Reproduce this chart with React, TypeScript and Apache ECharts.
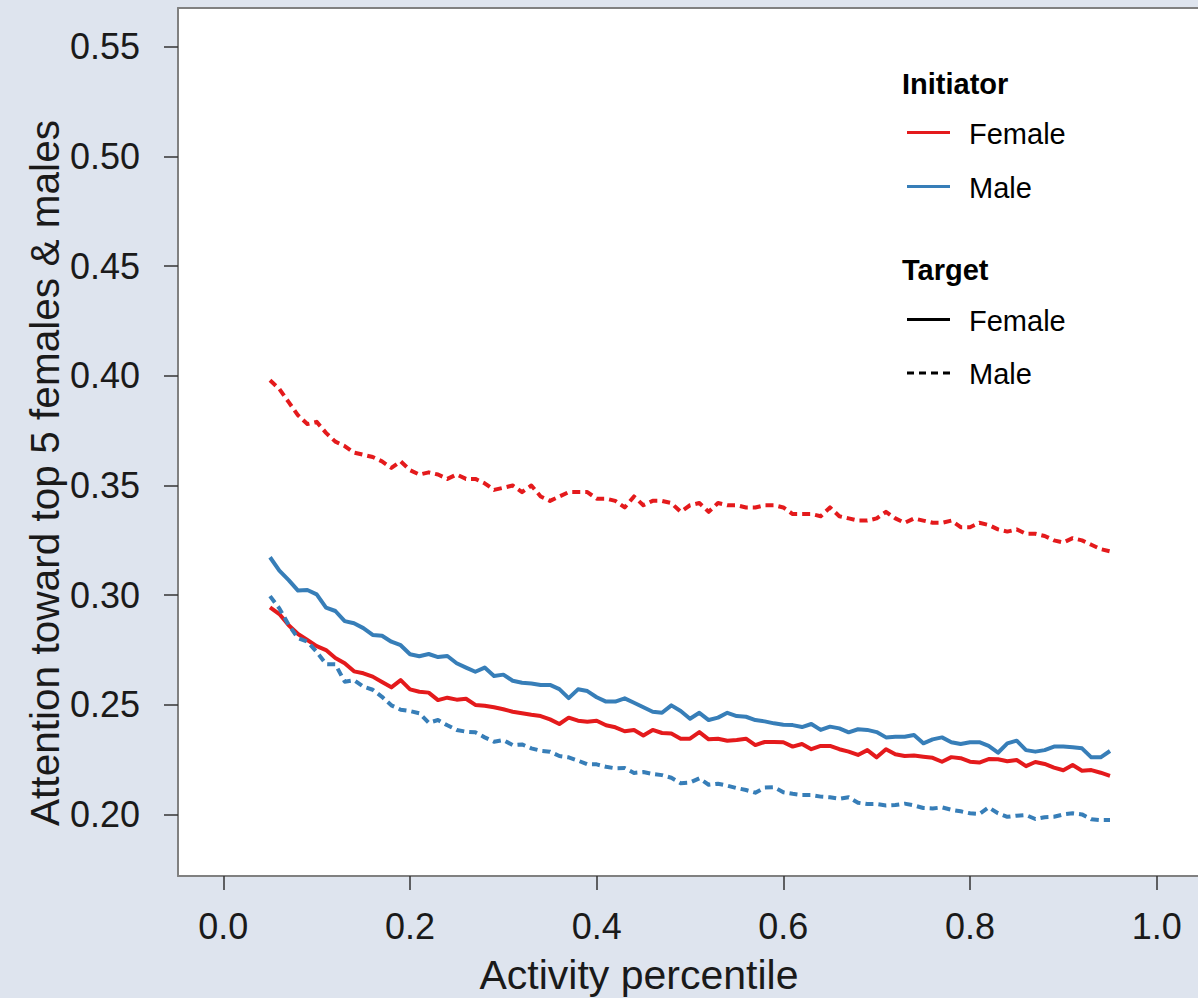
import React, { useEffect, useRef } from "react";
import * as echarts from "echarts";

// Activity percentile grid (0.05 .. 0.95 step 0.01)
const percentiles: number[] = Array.from({ length: 91 }, (_, i) => Math.round((0.05 + i * 0.01) * 100) / 100);

const xTicks = [0, 0.2, 0.4, 0.6, 0.8, 1.0];
const yTicks = [0.2, 0.25, 0.3, 0.35, 0.4, 0.45, 0.5, 0.55];

// Initiator Female -> Target Male (red dashed)
const femaleToMale = [
  0.398, 0.394, 0.388, 0.382, 0.378, 0.379, 0.374, 0.370, 0.368, 0.365,
  0.364, 0.363, 0.361, 0.358, 0.361, 0.357, 0.355, 0.356, 0.355, 0.353,
  0.355, 0.353, 0.353, 0.351, 0.348, 0.349, 0.350, 0.347, 0.350, 0.345,
  0.343, 0.345, 0.347, 0.347, 0.347, 0.344, 0.344, 0.343, 0.340, 0.345,
  0.341, 0.343, 0.343, 0.342, 0.338, 0.341, 0.342, 0.338, 0.342, 0.341,
  0.341, 0.340, 0.340, 0.341, 0.341, 0.340, 0.337, 0.337, 0.337, 0.336,
  0.340, 0.336, 0.335, 0.334, 0.334, 0.335, 0.338, 0.335, 0.333, 0.335,
  0.334, 0.333, 0.333, 0.334, 0.331, 0.331, 0.333, 0.332, 0.330, 0.329,
  0.330, 0.328, 0.328, 0.327, 0.325, 0.324, 0.326, 0.325, 0.323, 0.321,
  0.320,
];

// Initiator Female -> Target Female (red solid)
const femaleToFemale = [
  0.2945, 0.2914, 0.2863, 0.2823, 0.2796, 0.2768, 0.2750, 0.2714, 0.2690, 0.2653,
  0.2644, 0.2629, 0.2604, 0.2580, 0.2613, 0.2571, 0.2560, 0.2556, 0.2522, 0.2533,
  0.2524, 0.2528, 0.2500, 0.2496, 0.2489, 0.2480, 0.2469, 0.2462, 0.2455, 0.2449,
  0.2434, 0.2413, 0.2442, 0.2428, 0.2423, 0.2428, 0.2407, 0.2398, 0.2380, 0.2386,
  0.2361, 0.2386, 0.2372, 0.2370, 0.2346, 0.2346, 0.2376, 0.2343, 0.2346, 0.2337,
  0.2340, 0.2346, 0.2317, 0.2331, 0.2331, 0.2330, 0.2310, 0.2322, 0.2298, 0.2313,
  0.2313, 0.2298, 0.2287, 0.2272, 0.2294, 0.2261, 0.2298, 0.2275, 0.2267, 0.2269,
  0.2264, 0.2259, 0.2241, 0.2262, 0.2257, 0.2241, 0.2237, 0.2253, 0.2252, 0.2243,
  0.2249, 0.2221, 0.2240, 0.2231, 0.2214, 0.2202, 0.2226, 0.2200, 0.2203, 0.2191,
  0.2177,
];

// Initiator Male -> Target Female (blue solid)
const maleToFemale = [
  0.3173, 0.3112, 0.3069, 0.3021, 0.3024, 0.3004, 0.2943, 0.2928, 0.2882, 0.2872,
  0.2850, 0.2819, 0.2815, 0.2788, 0.2772, 0.2731, 0.2722, 0.2732, 0.2718, 0.2723,
  0.2690, 0.2670, 0.2651, 0.2670, 0.2632, 0.2638, 0.2610, 0.2601, 0.2598, 0.2591,
  0.2591, 0.2572, 0.2531, 0.2571, 0.2563, 0.2535, 0.2515, 0.2515, 0.2530, 0.2510,
  0.2489, 0.2469, 0.2464, 0.2498, 0.2472, 0.2437, 0.2464, 0.2431, 0.2442, 0.2464,
  0.2449, 0.2446, 0.2431, 0.2425, 0.2416, 0.2410, 0.2408, 0.2399, 0.2413, 0.2386,
  0.2401, 0.2393, 0.2375, 0.2389, 0.2386, 0.2376, 0.2352, 0.2355, 0.2355, 0.2363,
  0.2325, 0.2343, 0.2352, 0.2330, 0.2322, 0.2330, 0.2330, 0.2313, 0.2282, 0.2325,
  0.2337, 0.2294, 0.2287, 0.2294, 0.2310, 0.2310, 0.2307, 0.2302, 0.2261, 0.2261,
  0.2290,
];

// Initiator Male -> Target Male (blue dashed)
const maleToMale = [
  0.2996, 0.2940, 0.2864, 0.2804, 0.2788, 0.2742, 0.2686, 0.2685, 0.2606, 0.2613,
  0.2583, 0.2569, 0.2537, 0.2498, 0.2478, 0.2472, 0.2462, 0.2419, 0.2431, 0.2407,
  0.2386, 0.2378, 0.2375, 0.2352, 0.2332, 0.2340, 0.2317, 0.2320, 0.2302, 0.2291,
  0.2287, 0.2267, 0.2261, 0.2246, 0.2229, 0.2229, 0.2218, 0.2211, 0.2212, 0.2190,
  0.2194, 0.2185, 0.2180, 0.2168, 0.2143, 0.2146, 0.2165, 0.2136, 0.2141, 0.2132,
  0.2121, 0.2112, 0.2100, 0.2123, 0.2125, 0.2102, 0.2095, 0.2089, 0.2089, 0.2082,
  0.2079, 0.2072, 0.2079, 0.2054, 0.2048, 0.2048, 0.2042, 0.2044, 0.2050, 0.2042,
  0.2030, 0.2028, 0.2033, 0.2022, 0.2015, 0.2006, 0.2003, 0.2033, 0.2006, 0.1990,
  0.1995, 0.1998, 0.1980, 0.1988, 0.1990, 0.2001, 0.2006, 0.2001, 0.1979, 0.1975,
  0.1975,
];

const RED = "#e41a1c";
const BLUE = "#377eb8";
const FONT = "Liberation Sans, Arial, Helvetica, sans-serif";
const DASH = [8, 5];
const LEGEND_DASH = [7, 5];

export default function App() {
  const ref = useRef<HTMLDivElement>(null);

  useEffect(() => {
    if (!ref.current) return;
    const chart = echarts.init(ref.current, null, { renderer: "svg" });
    const pair = (vals: number[]) => percentiles.map((x, i) => [x, vals[i]]);
    const mkSeries = (name: string, vals: number[], color: string, dashed: boolean) => ({
      name,
      type: "line",
      data: pair(vals),
      symbol: "none",
      lineStyle: { color, width: 4, type: dashed ? DASH : "solid", join: "round", cap: "butt" },
      silent: true,
    });

    const axisColor = "#808080";
    const tickStyle = { show: true, inside: false, length: 14, lineStyle: { color: "#333", width: 1.5 } };

    chart.setOption({
      animation: false,
      backgroundColor: "#dee4ee",
      grid: {
        left: 178,
        right: 0,
        top: 8,
        bottom: 122,
        show: true,
        backgroundColor: "#ffffff",
        borderWidth: 0,
      },
      xAxis: [
        {
          type: "value",
          min: -0.0486,
          max: 1.0443,
          position: "bottom",
          axisLine: { show: true, onZero: false, lineStyle: { color: axisColor, width: 2 } },
          axisTick: { ...tickStyle, customValues: xTicks },
          axisLabel: {
            customValues: xTicks,
            formatter: (v: number) => v.toFixed(1),
            fontSize: 36,
            fontFamily: FONT,
            color: "#1a1a1a",
            margin: 32,
          },
          splitLine: { show: false },
        },
        {
          type: "value",
          min: -0.0486,
          max: 1.0443,
          position: "top",
          axisLine: { show: true, onZero: false, lineStyle: { color: axisColor, width: 2 } },
          axisTick: { show: false },
          axisLabel: { show: false },
          splitLine: { show: false },
        },
      ],
      yAxis: {
        type: "value",
        min: 0.17202,
        max: 0.56764,
        axisLine: { show: true, onZero: false, lineStyle: { color: axisColor, width: 2 } },
        axisTick: { ...tickStyle, customValues: yTicks },
        axisLabel: {
          customValues: yTicks,
          formatter: (v: number) => v.toFixed(2),
          fontSize: 36,
          fontFamily: FONT,
          color: "#1a1a1a",
          margin: 38,
        },
        splitLine: { show: false },
      },
      series: [
        mkSeries("Female → Male", femaleToMale, RED, true),
        mkSeries("Female → Female", femaleToFemale, RED, false),
        mkSeries("Male → Female", maleToFemale, BLUE, false),
        mkSeries("Male → Male", maleToMale, BLUE, true),
      ],
      graphic: [
        {
          type: "text",
          x: 639,
          y: 975,
          style: {
            text: "Activity percentile",
            fontSize: 41,
            fontFamily: FONT,
            fill: "#1a1a1a",
            align: "center",
            verticalAlign: "middle",
          },
        },
        {
          type: "text",
          x: 45,
          y: 473,
          rotation: Math.PI / 2,
          style: {
            text: "Attention toward top 5 females & males",
            fontSize: 40.6,
            fontFamily: FONT,
            fill: "#1a1a1a",
            align: "center",
            verticalAlign: "middle",
          },
        },
        // Legend: Initiator
        {
          type: "text",
          x: 902,
          y: 84,
          style: { text: "Initiator", fontSize: 29, fontWeight: "bold", fontFamily: FONT, fill: "#000", align: "left", verticalAlign: "middle" },
        },
        { type: "line", shape: { x1: 907, y1: 132.5, x2: 950, y2: 132.5 }, style: { stroke: RED, lineWidth: 3 } },
        {
          type: "text",
          x: 969,
          y: 134,
          style: { text: "Female", fontSize: 29, fontFamily: FONT, fill: "#000", align: "left", verticalAlign: "middle" },
        },
        { type: "line", shape: { x1: 907, y1: 186.5, x2: 950, y2: 186.5 }, style: { stroke: BLUE, lineWidth: 3 } },
        {
          type: "text",
          x: 969,
          y: 188,
          style: { text: "Male", fontSize: 29, fontFamily: FONT, fill: "#000", align: "left", verticalAlign: "middle" },
        },
        // Legend: Target
        {
          type: "text",
          x: 902,
          y: 270,
          style: { text: "Target", fontSize: 29, fontWeight: "bold", fontFamily: FONT, fill: "#000", align: "left", verticalAlign: "middle" },
        },
        { type: "line", shape: { x1: 907, y1: 319.5, x2: 950, y2: 319.5 }, style: { stroke: "#000", lineWidth: 3 } },
        {
          type: "text",
          x: 969,
          y: 321,
          style: { text: "Female", fontSize: 29, fontFamily: FONT, fill: "#000", align: "left", verticalAlign: "middle" },
        },
        {
          type: "line",
          shape: { x1: 907, y1: 373, x2: 950, y2: 373 },
          style: { stroke: "#000", lineWidth: 3, lineDash: LEGEND_DASH },
        },
        {
          type: "text",
          x: 969,
          y: 374,
          style: { text: "Male", fontSize: 29, fontFamily: FONT, fill: "#000", align: "left", verticalAlign: "middle" },
        },
      ],
    });

    return () => chart.dispose();
  }, []);

  return (
    <div
      ref={ref}
      style={{ position: "fixed", left: 0, top: 0, width: 1198, height: 998 }}
    />
  );
}
